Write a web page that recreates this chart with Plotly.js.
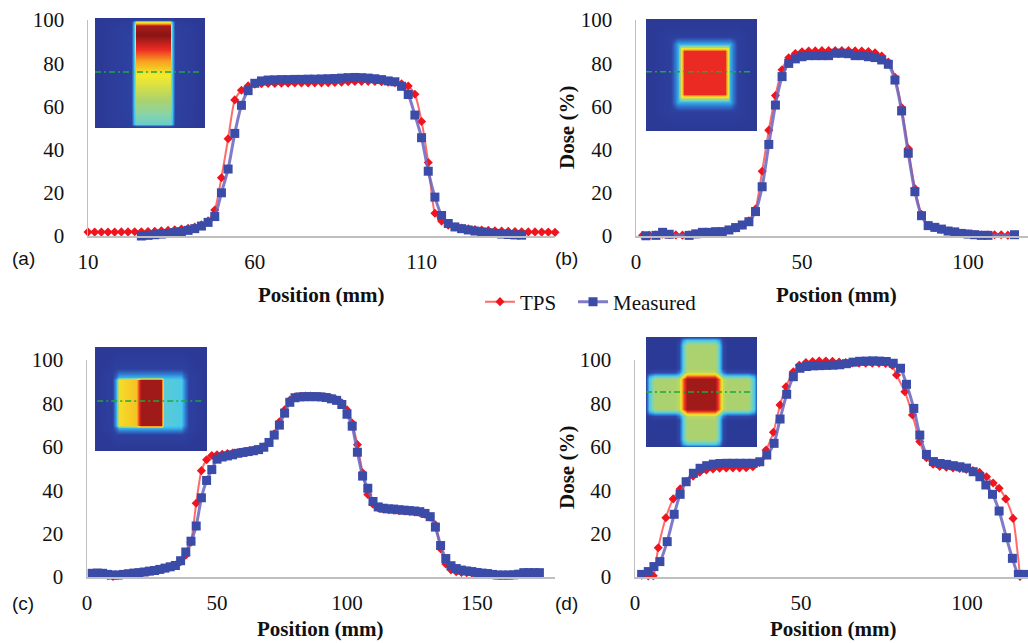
<!DOCTYPE html>
<html><head><meta charset="utf-8">
<script src="https://cdn.plot.ly/plotly-3.0.1.min.js"></script>
<style>html,body{margin:0;padding:0;background:#fff;}#chart{width:1028px;height:643px;}</style>
</head><body><div id="chart"></div>
<script>
// ---------- Panel (a) ----------
var tpsA_x = [10,12,14,16,18,20,22,24,26,28,30,32,34,36,38,40,42,44,46,48,50,52,54,56,58,60,62,64,66,68,70,72,74,76,78,80,82,84,86,88,90,92,94,96,98,100,102,104,106,108,110,112,114,116,118,120,122,124,126,128,130,132,134,136,138,140,142,144,146,148,150];
var tpsA_y = [1.8,1.8,1.8,1.8,1.8,1.9,1.9,2.0,2.0,2.1,2.2,2.4,2.6,2.9,3.2,3.6,4.2,5.2,7.0,12.0,27,45,63,67.5,69.5,70.3,70.5,70.6,70.6,70.7,70.7,70.8,70.8,70.8,70.9,70.9,71.0,71.1,71.2,71.4,71.5,71.6,71.6,71.5,71.4,71.2,71.0,70.5,69.4,65.6,53,34,10.5,6.9,5.0,4.2,3.7,3.3,3.0,2.8,2.6,2.4,2.3,2.2,2.1,2.0,1.9,1.9,1.8,1.8,1.7];
var measA_x = [26,28,30,32,34,36,38,40,42,44,46,48,50,52,54,56,58,60,62,64,66,68,70,72,74,76,78,80,82,84,86,88,90,92,94,96,98,100,102,104,106,108,110,112,114,116,118,120,122,124,126,128,130,132,134,136,138,140];
var measA_y = [0.0,0.3,0.6,0.9,1.2,1.6,2.0,2.6,3.4,4.6,6.3,9.0,20.0,31.0,47.5,60.5,67.3,70.7,71.8,72.2,72.3,72.4,72.4,72.5,72.5,72.6,72.6,72.7,72.8,72.9,73.1,73.3,73.4,73.3,73.1,72.8,72.4,71.8,71.4,69.3,65.5,56.0,45.5,30.0,18.0,9.5,5.8,4.2,3.4,2.8,2.3,1.9,1.5,1.2,0.9,0.7,0.5,0.4];

// ---------- Panel (b) ----------
var tpsB_x = [2,4,6,8,10,12,14,16,18,20,22,24,26,28,30,32,34,36,38,40,42,44,46,48,50,52,54,56,58,60,62,64,66,68,70,72,74,76,78,80,82,84,86,88,90,92,94,96,98,100,102,104,106,108,110,112];
var tpsB_y = [0.3,0.3,0.5,0.8,0.6,0.5,0.4,0.5,0.9,1.3,1.6,1.9,2.2,2.8,3.7,5.0,7.0,12.5,30.0,49.0,65,77,82.5,84.5,85.3,85.6,85.7,85.8,85.8,85.8,85.8,85.8,85.7,85.6,85.4,84.8,83.3,80.5,73.5,59.5,40.5,22.0,10.0,5.0,3.8,3.0,2.3,1.8,1.3,1.0,0.7,0.5,0.5,0.6,0.6,0.4];
var measB_x = [3,6,8,10,16,18,20,22,24,26,28,30,32,34,36,38,40,42,44,46,48,50,52,54,56,58,60,62,64,66,68,70,72,74,76,78,80,82,84,86,88,90,92,94,96,98,100,102,104,106,114];
var measB_y = [0.1,0.3,1.7,0.8,0.3,1.0,1.7,1.7,2.0,2.0,2.8,3.9,5.1,6.6,11.3,22.8,42.4,60.6,73.8,79.9,82.0,83.0,83.5,83.5,83.5,83.5,84.6,84.6,84.4,83.5,83.5,83.0,82.6,81.5,79.5,72.2,57.9,38.3,20.5,9.4,4.8,4.0,3.2,2.3,1.9,1.2,0.9,0.6,0.3,0.3,0.6];

// ---------- Panel (c) ----------
var tpsC_x = [2,4,6,8,10,12,14,16,18,20,22,24,26,28,30,32,34,36,38,40,42,44,46,48,50,52,54,56,58,60,62,64,66,68,70,72,74,76,78,80,82,84,86,88,90,92,94,96,98,100,102,104,106,108,110,112,114,116,118,120,122,124,126,128,130,132,134,136,138,140,142,144,146,148,150,152,154,156,158,160,162,164,166,168,170];
var tpsC_y = [1.5,1.8,1.5,0.6,0.3,0.8,1.2,1.3,1.6,2.0,2.3,2.6,3.0,3.4,4.0,4.6,5.5,7.0,10.0,16.0,34,49,54,56,56.3,56.6,56.9,57.1,57.4,57.7,58,58.4,58.9,59.9,62,66,71.5,77,81.5,83,83.3,83.4,83.4,83.3,83.1,82.8,82.4,81.7,80.3,77,71,61,48,38,33.5,31.8,31.3,31,30.8,30.6,30.4,30.2,30,29.6,28.9,27.6,24,13,6,3.3,2.4,2.1,2.0,1.9,1.7,1.5,1.2,1.0,0.8,0.8,0.8,0.9,1.2,1.6,1.8];
var measC_x = [2,4,6,8,10,12,14,16,18,20,22,24,26,28,30,32,34,36,38,40,42,44,46,48,50,52,54,56,58,60,62,64,66,68,70,72,74,76,78,80,82,84,86,88,90,92,94,96,98,100,102,104,106,108,110,112,114,116,118,120,122,124,126,128,130,132,134,136,138,140,142,144,146,148,150,152,154,156,158,160,162,164,166,168,170,172,174];
var measC_y = [1.7,1.8,1.7,1.2,0.9,0.9,1.2,1.5,1.8,2.0,2.3,2.7,3.0,3.5,4.1,4.7,5.3,7.5,11.5,16.5,23.5,36.5,44.5,49.5,54.3,55.3,55.8,56.3,57.0,57.4,57.8,58.2,58.7,59.8,62.0,65.4,70.0,75.5,80.5,82.6,83.0,83.1,83.1,83.1,83.0,82.7,82.1,81.4,79.5,75.0,69.5,57.5,46.5,40.9,34.8,32.3,31.7,31.4,31.3,31.0,30.8,30.6,30.4,30.1,29.3,27.8,23.0,14.5,8.5,5.2,3.9,3.2,2.8,2.5,2.1,1.8,1.6,1.2,0.9,0.9,0.9,1.0,1.3,2.0,2.0,2.0,2.0];

// ---------- Panel (d) ----------
var tpsD_x = [2,4,5.5,7,9.3,11.5,13.6,15.5,17.5,19.5,21.5,23.5,25.5,27.5,29.5,31.5,33.5,35.5,37.5,39.5,41.7,43.7,45.5,47.7,49.5,51.5,53.5,55.5,57.5,59.5,61.5,63.5,65.5,67.5,69.5,71.5,73.5,75.5,77.5,78.8,81.3,83.6,85.8,87.8,89.8,91.8,93.8,95.8,97.8,99.8,101.8,103.8,105.9,107.9,109.7,111.7,113.9,116];
var tpsD_y = [0.8,0.5,0.6,13.5,27.3,36.0,40.6,44.0,46.5,48.3,49.3,49.8,50.1,50.2,50.3,50.3,50.4,50.8,52.8,58.5,66.7,79.3,87.7,94.6,97.6,98.8,99.3,99.5,99.5,99.4,99.1,98.8,98.6,98.5,98.5,98.5,98.5,98.4,97.5,93.1,85.4,74.7,62.4,55.0,52.0,51.0,50.6,50.3,50.0,49.6,49.0,48.2,46.2,43.3,40.9,36.0,27.0,0.3];
var measD_x = [2,4,5.7,7.5,9.7,11.8,13.6,15.4,17.6,19.6,21.6,23.6,25.6,27.6,29.6,31.6,33.6,35.6,37.6,39.7,41.9,43.7,45.7,47.7,49.7,51.7,53.7,55.7,57.7,59.7,61.7,63.7,65.7,67.7,69.7,71.7,73.7,75.7,77.8,80.0,81.8,84.0,85.8,87.8,89.9,91.9,93.9,95.9,97.9,99.9,101.9,103.9,105.7,107.7,109.7,111.9,113.7,115.5,117.5];
var measD_y = [1.2,2.5,4.8,7.1,16.3,28.9,38.1,43.9,47.8,50.1,51.3,52.0,52.3,52.4,52.4,52.4,52.4,52.4,53.1,56.2,61.6,72.8,84.2,92.3,96.2,97.0,97.3,97.4,97.5,97.6,97.8,98.3,99.0,99.4,99.5,99.6,99.5,99.3,98.5,96.2,88.8,77.7,65.4,56.5,53.2,52.3,51.9,51.3,50.8,50.2,48.5,46.2,42.4,38.1,30.4,18.1,8.6,1.2,1.2];

// ---------- Axis tick labels ----------
var yTicks = [0,20,40,60,80,100];
var xTicksA = [10,60,110];
var xTicksB = [0,50,100];
var xTicksC = [0,50,100,150];
var xTicksD = [0,50,100];
var seriesNames = ['TPS','Measured'];
var panelLabels = ['(a)','(b)','(c)','(d)'];

// ---------- Inset dose maps (relative dose 0..1) ----------
var insetA_x = [0,0.33,0.355,0.375,0.68,0.70,0.725,1];
var insetA_y = [0,0.02,0.04,0.2,0.35,0.5,0.6,0.72,0.85,0.93,0.96,0.98,1];
var insetA_z = [
 [0.02,0.03,0.04,0.04,0.04,0.04,0.03,0.02],
 [0.02,0.05,0.10,0.12,0.12,0.10,0.05,0.02],
 [0.02,0.06,0.33,0.40,0.40,0.33,0.06,0.02],
 [0.02,0.07,0.36,0.49,0.49,0.36,0.07,0.02],
 [0.02,0.07,0.36,0.57,0.57,0.36,0.07,0.02],
 [0.02,0.07,0.36,0.65,0.65,0.36,0.07,0.02],
 [0.02,0.07,0.36,0.74,0.74,0.36,0.07,0.02],
 [0.02,0.07,0.36,0.86,0.86,0.36,0.07,0.02],
 [0.02,0.07,0.36,1.00,1.00,0.36,0.07,0.02],
 [0.02,0.06,0.36,0.96,0.96,0.36,0.06,0.02],
 [0.02,0.05,0.33,0.62,0.62,0.33,0.05,0.02],
 [0.02,0.04,0.08,0.10,0.10,0.08,0.04,0.02],
 [0.02,0.02,0.02,0.02,0.02,0.02,0.02,0.02]];

var insetB_x = [0,0.22,0.29,0.315,0.34,0.71,0.735,0.76,0.83,1];
var insetB_y = [0,0.17,0.26,0.30,0.33,0.71,0.74,0.78,0.85,1];
var insetB_z = [
 [0.02,0.02,0.02,0.02,0.02,0.02,0.02,0.02,0.02,0.02],
 [0.02,0.05,0.05,0.05,0.05,0.05,0.05,0.05,0.05,0.02],
 [0.02,0.05,0.30,0.30,0.30,0.30,0.30,0.30,0.05,0.02],
 [0.02,0.05,0.30,0.62,0.62,0.62,0.62,0.30,0.05,0.02],
 [0.02,0.05,0.30,0.62,0.86,0.86,0.62,0.30,0.05,0.02],
 [0.02,0.05,0.30,0.62,0.86,0.86,0.62,0.30,0.05,0.02],
 [0.02,0.05,0.30,0.62,0.62,0.62,0.62,0.30,0.05,0.02],
 [0.02,0.05,0.30,0.30,0.30,0.30,0.30,0.30,0.05,0.02],
 [0.02,0.05,0.05,0.05,0.05,0.05,0.05,0.05,0.05,0.02],
 [0.02,0.02,0.02,0.02,0.02,0.02,0.02,0.02,0.02,0.02]];

var insetC_x = [0,0.15,0.19,0.215,0.37,0.41,0.59,0.62,0.77,0.795,0.84,1];
var insetC_y = [0,0.15,0.22,0.25,0.68,0.71,0.8,1];
var insetC_z = [
 [0.02,0.02,0.02,0.02,0.02,0.02,0.02,0.02,0.02,0.02,0.02,0.02],
 [0.02,0.04,0.06,0.06,0.06,0.06,0.06,0.06,0.06,0.06,0.04,0.02],
 [0.02,0.06,0.18,0.30,0.30,0.30,0.30,0.30,0.30,0.18,0.06,0.02],
 [0.02,0.06,0.30,0.66,0.70,0.97,0.97,0.38,0.36,0.25,0.06,0.02],
 [0.02,0.06,0.30,0.66,0.70,0.97,0.97,0.38,0.36,0.25,0.06,0.02],
 [0.02,0.06,0.18,0.30,0.30,0.30,0.30,0.30,0.30,0.18,0.06,0.02],
 [0.02,0.04,0.06,0.06,0.06,0.06,0.06,0.06,0.06,0.06,0.04,0.02],
 [0.02,0.02,0.02,0.02,0.02,0.02,0.02,0.02,0.02,0.02,0.02,0.02]];

var insetD_x = [0,0.03,0.08,0.26,0.30,0.335,0.365,0.625,0.655,0.69,0.73,0.92,0.97,1];
var insetD_y = [0,0.03,0.07,0.25,0.285,0.315,0.345,0.62,0.65,0.685,0.72,0.93,0.97,1];
var insetD_z = [
 [0.02,0.02,0.02,0.02,0.03,0.08,0.10,0.10,0.08,0.03,0.02,0.02,0.02,0.02],
 [0.02,0.02,0.03,0.03,0.06,0.28,0.36,0.36,0.28,0.06,0.03,0.03,0.02,0.02],
 [0.02,0.03,0.03,0.03,0.10,0.38,0.52,0.52,0.38,0.10,0.03,0.03,0.03,0.02],
 [0.02,0.03,0.03,0.03,0.10,0.38,0.52,0.52,0.38,0.10,0.03,0.03,0.03,0.02],
 [0.03,0.06,0.10,0.10,0.20,0.40,0.55,0.55,0.40,0.20,0.10,0.10,0.06,0.03],
 [0.08,0.28,0.38,0.38,0.40,0.62,0.80,0.80,0.62,0.40,0.38,0.38,0.28,0.08],
 [0.10,0.36,0.52,0.52,0.55,0.80,0.97,0.97,0.80,0.55,0.52,0.52,0.36,0.10],
 [0.10,0.36,0.52,0.52,0.55,0.80,0.97,0.97,0.80,0.55,0.52,0.52,0.36,0.10],
 [0.08,0.28,0.38,0.38,0.40,0.62,0.80,0.80,0.62,0.40,0.38,0.38,0.28,0.08],
 [0.03,0.06,0.10,0.10,0.20,0.40,0.55,0.55,0.40,0.20,0.10,0.10,0.06,0.03],
 [0.02,0.03,0.03,0.03,0.10,0.38,0.52,0.52,0.38,0.10,0.03,0.03,0.03,0.02],
 [0.02,0.03,0.03,0.03,0.10,0.38,0.52,0.52,0.38,0.10,0.03,0.03,0.03,0.02],
 [0.02,0.02,0.03,0.03,0.06,0.28,0.36,0.36,0.28,0.06,0.03,0.03,0.02,0.02],
 [0.02,0.02,0.02,0.02,0.03,0.08,0.10,0.10,0.08,0.03,0.02,0.02,0.02,0.02]];

var doseScale = [[0,'#2b3590'],[0.1,'#2f47a8'],[0.22,'#2f80d2'],[0.34,'#40c6f0'],[0.45,'#88d4a8'],[0.52,'#abd26e'],[0.64,'#f4ea2a'],[0.75,'#f8a020'],[0.86,'#ec2a24'],[1,'#8a1515']];

// ---------- build ----------
var W = 1028, H = 643;
function px(v){ return v / W; }
function py(v){ return 1 - v / H; }

var serif = 'Liberation Serif';
var sans = 'Liberation Sans';

function tpsTrace(x, y, xa, ya, show){
  return {type:'scatter', mode:'lines+markers', x:x, y:y, xaxis:xa, yaxis:ya,
    name:seriesNames[0], legend:'legend', legendgroup:'tps', showlegend:show, cliponaxis:false,
    line:{color:'rgba(255,70,70,0.8)', width:2, shape:'spline', smoothing:0.6},
    marker:{symbol:'diamond', size:7, color:'#f0141e'}, hoverinfo:'x+y'};
}
function measTrace(x, y, xa, ya, show){
  return {type:'scatter', mode:'lines+markers', x:x, y:y, xaxis:xa, yaxis:ya,
    name:seriesNames[1], legend:'legend2', legendgroup:'meas', showlegend:show, cliponaxis:false,
    line:{color:'rgba(105,100,190,0.85)', width:3, shape:'spline', smoothing:0.6},
    marker:{symbol:'square', size:9, color:'#3b4ba8'}, hoverinfo:'x+y'};
}
function heat(x, y, z, xa, ya){
  return {type:'heatmap', x:x, y:y, z:z, xaxis:xa, yaxis:ya, colorscale:doseScale,
    zmin:0, zmax:1, zsmooth:'best', showscale:false, hoverinfo:'skip', showlegend:false};
}

var data = [
  heat(insetA_x, insetA_y, insetA_z, 'x5', 'y5'),
  heat(insetB_x, insetB_y, insetB_z, 'x6', 'y6'),
  heat(insetC_x, insetC_y, insetC_z, 'x7', 'y7'),
  heat(insetD_x, insetD_y, insetD_z, 'x8', 'y8'),
  tpsTrace(tpsA_x, tpsA_y, 'x', 'y', true),
  measTrace(measA_x, measA_y, 'x', 'y', true),
  tpsTrace(tpsB_x, tpsB_y, 'x2', 'y2', false),
  measTrace(measB_x, measB_y, 'x2', 'y2', false),
  tpsTrace(tpsC_x, tpsC_y, 'x3', 'y3', false),
  measTrace(measC_x, measC_y, 'x3', 'y3', false),
  tpsTrace(tpsD_x, tpsD_y, 'x4', 'y4', false),
  measTrace(measD_x, measD_y, 'x4', 'y4', false)
];

function xAxis(dom, range, ticks, anchor){
  return {domain:dom, range:range, anchor:anchor, tickmode:'array', tickvals:ticks, ticktext:ticks.map(String),
    showline:true, linecolor:'#bfbfbf', linewidth:1.5, showgrid:false, zeroline:false, ticks:'',
    ticklabelstandoff:6, tickfont:{family:serif, size:21, color:'#111'}, fixedrange:true};
}
function yAxis(dom, anchor){
  return {domain:dom, range:[0,100], anchor:anchor, tickmode:'array', tickvals:yTicks, ticktext:yTicks.map(String),
    showline:true, linecolor:'#bfbfbf', linewidth:1.5, showgrid:false, zeroline:false, ticks:'',
    ticklabelstandoff:18, tickfont:{family:serif, size:21, color:'#111'}, fixedrange:true};
}
function hidden(dom, anchor){
  return {domain:dom, range:[0,1], anchor:anchor, visible:false, fixedrange:true};
}

var yTop = [py(236), py(20)];
var yBot = [py(577), py(360)];
var legendFont = {family:serif, size:21, color:'#111'};

var layout = {
  width:W, height:H, margin:{l:0, r:0, t:0, b:0}, paper_bgcolor:'#fff', plot_bgcolor:'rgba(0,0,0,0)',
  font:{family:serif, size:20, color:'#111'},
  xaxis: xAxis([px(88), px(555)], [10,150], xTicksA, 'y'),
  yaxis: yAxis(yTop, 'x'),
  xaxis2: xAxis([px(636), 1], [0,118.07], xTicksB, 'y2'),
  yaxis2: yAxis(yTop, 'x2'),
  xaxis3: xAxis([px(87), px(555)], [0,180], xTicksC, 'y3'),
  yaxis3: yAxis(yBot, 'x3'),
  xaxis4: xAxis([px(635), 1], [0,118.4], xTicksD, 'y4'),
  yaxis4: yAxis(yBot, 'x4'),
  xaxis5: hidden([px(95), px(205)], 'y5'), yaxis5: hidden([py(128), py(18)], 'x5'),
  xaxis6: hidden([px(646), px(757)], 'y6'), yaxis6: hidden([py(131), py(19)], 'x6'),
  xaxis7: hidden([px(95), px(207)], 'y7'), yaxis7: hidden([py(451), py(347)], 'x7'),
  xaxis8: hidden([px(646), px(757)], 'y8'), yaxis8: hidden([py(447), py(337)], 'x8'),
  showlegend:true,
  legend:{orientation:'h', x:px(480), y:py(302), xanchor:'left', yanchor:'middle',
    font:legendFont, bgcolor:'rgba(0,0,0,0)', itemwidth:30},
  legend2:{orientation:'h', x:px(573), y:py(302), xanchor:'left', yanchor:'middle',
    font:legendFont, bgcolor:'rgba(0,0,0,0)', itemwidth:30},
  shapes:[
    {type:'line', xref:'x5', yref:'y5', x0:0.0, x1:0.955, y0:0.51, y1:0.51, line:{color:'#1fa83c', width:1.5, dash:'6px,3px,2px,3px'}},
    {type:'line', xref:'x6', yref:'y6', x0:0.0, x1:0.95, y0:0.53, y1:0.53, line:{color:'#1fa83c', width:1.5, dash:'6px,3px,2px,3px'}},
    {type:'line', xref:'x7', yref:'y7', x0:0.02, x1:0.95, y0:0.48, y1:0.48, line:{color:'#1fa83c', width:1.5, dash:'6px,3px,2px,3px'}},
    {type:'line', xref:'x8', yref:'y8', x0:0.0, x1:0.96, y0:0.50, y1:0.50, line:{color:'#1fa83c', width:1.5, dash:'6px,3px,2px,3px'}}
  ],
  annotations:[
    {text:'<b>Position (mm)</b>', xref:'paper', yref:'paper', x:px(321), y:py(295), showarrow:false, xanchor:'center', yanchor:'middle', font:{family:serif, size:21, color:'#111'}},
    {text:'<b>Postion (mm)</b>', xref:'paper', yref:'paper', x:px(836), y:py(295), showarrow:false, xanchor:'center', yanchor:'middle', font:{family:serif, size:21, color:'#111'}},
    {text:'<b>Position (mm)</b>', xref:'paper', yref:'paper', x:px(320), y:py(629), showarrow:false, xanchor:'center', yanchor:'middle', font:{family:serif, size:21, color:'#111'}},
    {text:'<b>Position (mm)</b>', xref:'paper', yref:'paper', x:px(833), y:py(629), showarrow:false, xanchor:'center', yanchor:'middle', font:{family:serif, size:21, color:'#111'}},
    {text:'<b>Dose (%)</b>', xref:'paper', yref:'paper', x:px(567), y:py(128), textangle:-90, showarrow:false, xanchor:'center', yanchor:'middle', font:{family:serif, size:21, color:'#111'}},
    {text:'<b>Dose (%)</b>', xref:'paper', yref:'paper', x:px(567), y:py(468), textangle:-90, showarrow:false, xanchor:'center', yanchor:'middle', font:{family:serif, size:21, color:'#111'}},
    {text:panelLabels[0], xref:'paper', yref:'paper', x:px(23), y:py(258), showarrow:false, xanchor:'center', yanchor:'middle', font:{family:sans, size:19, color:'#111'}},
    {text:panelLabels[1], xref:'paper', yref:'paper', x:px(566), y:py(258), showarrow:false, xanchor:'center', yanchor:'middle', font:{family:sans, size:19, color:'#111'}},
    {text:panelLabels[2], xref:'paper', yref:'paper', x:px(23), y:py(603), showarrow:false, xanchor:'center', yanchor:'middle', font:{family:sans, size:19, color:'#111'}},
    {text:panelLabels[3], xref:'paper', yref:'paper', x:px(566), y:py(603), showarrow:false, xanchor:'center', yanchor:'middle', font:{family:sans, size:19, color:'#111'}}
  ]
};

Plotly.newPlot('chart', data, layout, {displayModeBar:false, staticPlot:true});
</script></body></html>
